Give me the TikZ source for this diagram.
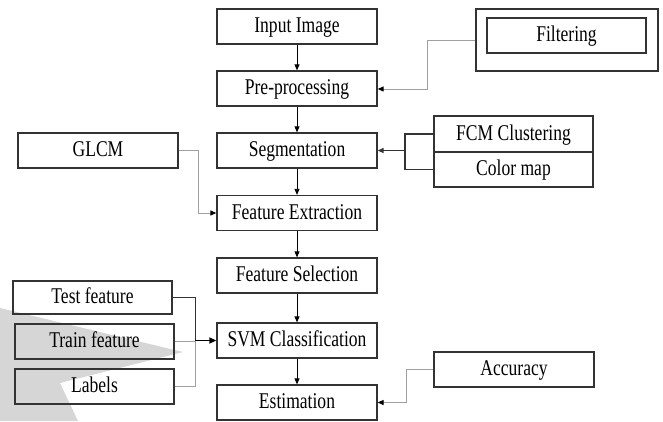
\documentclass[tikz,border=0pt]{standalone}
\usepackage{fontspec}
\usepackage{graphicx}
\setmainfont{Liberation Serif}
\usetikzlibrary{arrows.meta}
\definecolor{boxline}{HTML}{333333}
\definecolor{wm}{HTML}{D6D6D6}
\definecolor{lgray}{HTML}{A0A0A0}
\newcommand{\sqtext}[1]{\scalebox{0.78}[1]{#1}}
\tikzset{
  box/.style={draw=boxline, line width=1.3pt, minimum width=160pt, minimum height=35pt, inner sep=0pt,
    text height=15pt, text depth=3pt,
    font=\fontsize{22.5}{24}\selectfont, text=black},
  flow/.style={draw=black, line width=0.8pt, -{Triangle[length=6pt,width=5pt]}},
  side/.style={draw=lgray, line width=1pt, -{Triangle[length=6pt,width=5pt,color=black]}},
  sidenoarrow/.style={draw=lgray, line width=1pt},
  thick connector/.style={draw=boxline, line width=1.8pt},
}
\begin{document}
\begin{tikzpicture}[x=1pt,y=-1pt]
\useasboundingbox (0,0) rectangle (663,421);
% watermark
\fill[wm] (0,308) -- (183,352) -- (60,383) -- (78,421) -- (0,421) -- cycle;
% main column
\node[box] (in) at (297,26.5) {\sqtext{Input Image}};
\node[box] (pre) at (297,88.5) {\sqtext{Pre-processing}};
\node[box] (seg) at (297,150.5) {\sqtext{Segmentation}};
\node[box] (fe) at (297,213) {\sqtext{Feature Extraction}};
\node[box] (fs) at (297,275.5) {\sqtext{Feature Selection}};
\node[box] (svm) at (297,340.5) {\sqtext{SVM Classification}};
\node[box] (est) at (297,402.5) {\sqtext{Estimation}};
\draw[flow] (in) -- (pre);
\draw[flow] (pre) -- (seg);
\draw[flow] (seg) -- (fe);
\draw[flow] (fe) -- (fs);
\draw[flow] (fs) -- (svm);
\draw[flow] (svm) -- (est);
% filtering
\node[box, minimum width=182pt, minimum height=62pt, text height=0pt, text depth=0pt] (fout) at (567,40) {};
\node[box, minimum width=159pt] (filt) at (566.5,35.5) {\sqtext{Filtering}};
\coordinate (fa) at (427,40);
\coordinate (fb) at (427,89);
\draw[side] (fout.west) -- (fa) -- (fb) -- (pre.east |- fb);
% FCM / color map
\node[box, minimum width=159pt, minimum height=36pt] (fcm) at (513.5,134) {\sqtext{FCM Clustering}};
\node[box, minimum width=159pt] (cmap) at (513.5,169.5) {\sqtext{Color map}};
\coordinate (ja) at (405,134);
\coordinate (jb) at (405,169.5);
\coordinate (jm) at (405,150.5);
\draw[thick connector] (fcm.west) -- (ja) -- (jb) -- (cmap.west);
\draw[thick connector, -{Triangle[length=6pt,width=5pt]}] (jm) -- (seg.east);
% GLCM
\node[box] (glcm) at (98,150.5) {\sqtext{GLCM}};
\coordinate (ga) at (198,150.5);
\coordinate (gb) at (198,213);
\draw[side] (glcm.east) -- (ga) -- (gb) -- (fe.west);
% features
\node[box, minimum width=159pt, minimum height=33pt] (test) at (92.5,297.5) {\sqtext{Test feature}};
\node[box, minimum width=159pt] (train) at (94.5,341.5) {\sqtext{Train feature}};
\node[box, minimum width=159pt] (lab) at (94.5,386.5) {\sqtext{Labels}};
\coordinate (ta) at (195,297.5);
\coordinate (la) at (195,386.5);
\coordinate (sm) at (195,340.5);
\draw[draw=boxline, line width=1pt] (test.east) -- (ta) -- (sm);
\draw[sidenoarrow] (lab.east) -- (la) -- (sm);
\draw[sidenoarrow] (train.east) -- (sm |- train.east);
\draw[draw=black, line width=1.5pt, -{Triangle[length=7pt,width=6pt]}] (sm) -- (svm.west);
% accuracy
\node[box] (acc) at (514,369.5) {\sqtext{Accuracy}};
\coordinate (aa) at (406,369.5);
\coordinate (ab) at (406,402.5);
\draw[side] (acc.west) -- (aa) -- (ab) -- (est.east);
\end{tikzpicture}
\end{document}
